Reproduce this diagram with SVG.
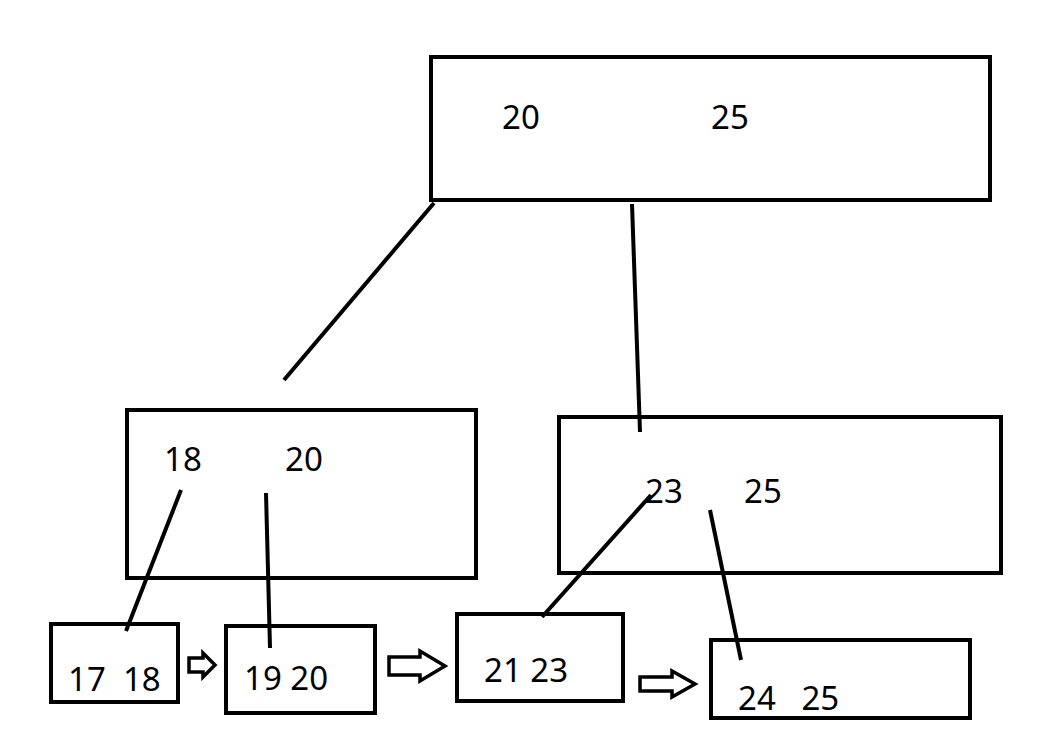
<svg xmlns="http://www.w3.org/2000/svg" width="1038" height="736" viewBox="0 0 1038 736">
<style>
.b{fill:none;stroke:#000;stroke-width:4}
.l{stroke:#000;stroke-width:4;fill:none}
.a{fill:#fff;stroke:#000;stroke-width:3.5;stroke-linejoin:miter}
text{font-family:"Noto Sans","Open Sans",sans-serif;font-size:33px;fill:#000}
</style>
<rect width="1038" height="736" fill="#fff"/>
<g id="root"><rect class="b" x="431" y="57" width="559" height="143"/><text x="502" y="129">20</text><text x="711" y="129">25</text></g>
<g id="midL"><rect class="b" x="127" y="410" width="349" height="168"/><text x="164" y="471">18</text><text x="285" y="471">20</text></g>
<g id="midR"><rect class="b" x="559" y="417" width="442" height="156"/><text x="645" y="503">23</text><text x="744" y="503">25</text></g>
<g id="leaf1"><rect class="b" x="51" y="624" width="127" height="78"/><text x="68" y="691" xml:space="preserve">17  18</text></g>
<g id="leaf2"><rect class="b" x="226" y="626" width="149" height="87"/><text x="244" y="690">19 20</text></g>
<g id="leaf3"><rect class="b" x="457" y="614" width="166" height="87"/><text x="484" y="682">21 23</text></g>
<g id="leaf4"><rect class="b" x="711" y="640" width="259" height="78"/><text x="738" y="710" xml:space="preserve">24   25</text></g>
<g id="connectors">
<line class="l" x1="434" y1="203" x2="284" y2="380"/>
<line class="l" x1="632" y1="204" x2="640" y2="432"/>
<line class="l" x1="181" y1="490" x2="126" y2="631"/>
<line class="l" x1="266" y1="493" x2="270" y2="648"/>
<line class="l" x1="651" y1="495" x2="542" y2="617"/>
<line class="l" x1="710" y1="510" x2="741" y2="660"/>
<path class="a" d="M189 658H203V653L215 665L203 677V672H189Z"/>
<path class="a" d="M389 657H420V651L445 666L420 681V675H389Z"/>
<path class="a" d="M640 677H672V671L695 684L672 697V691H640Z"/>
</g>
</svg>
